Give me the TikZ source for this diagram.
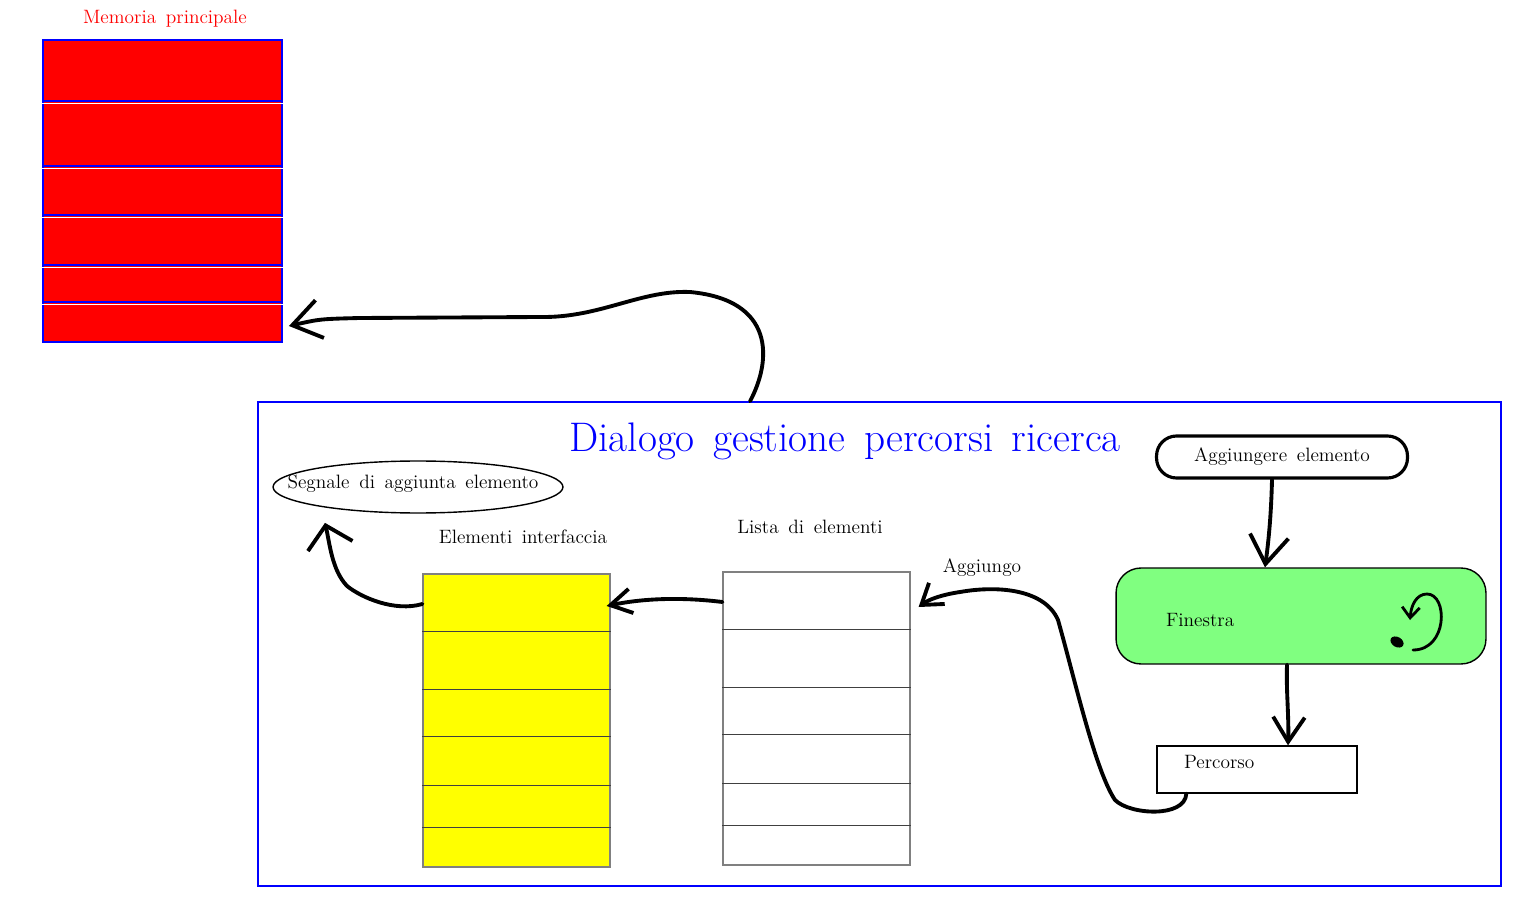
\documentclass[tikz,border=0pt]{standalone}
\usetikzlibrary{arrows.meta, positioning, shapes.geometric, calc}

\definecolor{winfill}{RGB}{128,255,128}
\definecolor{cellyellow}{RGB}{255,255,0}
\newcommand\wordsp[1]{\spaceskip #1em plus .1em\relax}

\begin{document}
\begin{tikzpicture}[
    x=0.02cm, y=-0.02cm,
    txt/.style={
        font={\fontsize{11}{13}\selectfont\wordsp{.5}},
        inner sep=1pt
    },
    membox/.style={
        draw=blue, fill=red,
        line width=1.1pt,
        minimum width=4.78cm,
        minimum height=6.04cm,
        inner sep=0pt
    },
    dlgbox/.style={
        draw=blue,
        line width=0.9pt,
        minimum width=24.86cm,
        minimum height=9.68cm,
        inner sep=0pt
    },
    cellbox/.style={
        draw=black!50,
        line width=0.7pt,
        minimum width=3.74cm,
        minimum height=5.86cm,
        inner sep=0pt
    },
    rowline/.style={draw=black!75, line width=0.5pt},
    sigshape/.style={
        draw, ellipse,
        line width=0.8pt,
        minimum width=5.8cm,
        minimum height=1.04cm,
        inner sep=0pt
    },
    addbox/.style={
        txt,
        draw,
        line width=1.8pt,
        rounded corners=0.4cm,
        minimum width=5.02cm,
        minimum height=0.84cm
    },
    winbox/.style={
        draw, fill=winfill,
        line width=0.8pt,
        rounded corners=0.5cm,
        minimum width=7.4cm,
        minimum height=1.92cm
    },
    percbox/.style={
        txt,
        draw,
        line width=0.8pt,
        minimum width=4cm,
        minimum height=0.94cm,
        inner xsep=0.54cm,
        text width=2.92cm,
        text depth=0.31cm,
        align=left
    },
    hand/.style={
        line width=2.2pt,
        line cap=round,
        line join=round
    }
]

\useasboundingbox (0,0) rectangle (1513,901);

% Main memory
\node[txt, text=red] (memlbl) at (165,19) {Memoria principale};
\node[membox] (mem) at (162.5,191) {};
\foreach \yy in {101,166,215,265,302} {
    \draw[blue, line width=0.9pt] (mem.west |- 0,\yy) -- (mem.east |- 0,\yy);
    \draw[white, line width=0.5pt] (mem.west |- 0,\yy+2) -- (mem.east |- 0,\yy+2);
}

% Dialog
\node[dlgbox] (dlg) at (879.5,644) {};
\node[font={\fontsize{23.5}{28}\selectfont\wordsp{.45}}, text=blue] (title) at (845,441)
    {Dialogo gestione percorsi ricerca};

% Signal
\node[sigshape] (sig) at (418,487) {};
\node[txt] (siglbl) at (413,484) {Segnale di aggiunta elemento};

% Interface elements and list
\node[txt] (uilbl) at (523,537) {Elementi interfaccia};
\node[cellbox, fill=cellyellow] (ui) at (516.5,720.5) {};
\foreach \yy in {631,689,736,785,827}
    \draw[rowline] (ui.west |- 0,\yy) -- (ui.east |- 0,\yy);

\node[txt] (lstlbl) at (810,527) {Lista di elementi};
\node[cellbox] (lst) at (816.5,718.5) {};
\foreach \yy in {629,687,734,783,825}
    \draw[rowline] (lst.west |- 0,\yy) -- (lst.east |- 0,\yy);

\node[txt] (agglbl) at (982,568) {Aggiungo};

% Window side
\node[addbox] (add) at (1282,457) {Aggiungere elemento};
\node[winbox] (win) at (1301,616) {};
\node[txt, anchor=west] (winlbl) at (1164,620) {Finestra};
\node[percbox] (perc) at (1257,769.5) {Percorso};

% Hand drawn arrows
\draw[hand, -{Straight Barb[length=16pt,width=22pt]}]
    ([xshift=-2.59cm]dlg.north) .. controls (772,360) and (775,300) .. (690,292)
    .. controls (640,290) and (600,318) .. (540,317) -- (360,318)
    .. controls (320,319) .. ($(mem.east |- 0,326)+(6,0)$);

\draw[hand, -{Straight Barb[length=12pt,width=26pt]}]
    (ui.west |- 0,604) .. controls (395,612) and (362,598) .. (347,586)
    .. controls (332,570) and (330,545) .. ($(sig.south west)+(10,17)$);

\draw[hand, -{Straight Barb[length=12pt,width=14pt]}]
    (lst.west |- 0,602) .. controls (690,598) and (650,597) .. ($(ui.east |- 0,606)+(-4,0)$);

\draw[hand, -{Straight Barb[length=11pt,width=15pt]}]
    ($(perc.south west)+(30,0)$) .. controls (1185,818) and (1130,815) .. (1115,800)
    .. controls (1095,770) and (1075,680) .. (1058,620)
    .. controls (1045,590) and (1000,585) .. (960,592)
    .. controls (940,595) and (928,600) .. ($(lst.east |- 0,607)+(8,0)$);

\draw[hand, -{Straight Barb[length=16pt,width=22pt]}]
    (add.south -| 1272,0) .. controls (1271,520) and (1268,545) .. (win.north -| 1265,0);

\draw[hand, -{Straight Barb[length=14pt,width=18pt]}]
    (win.south -| 1287,0) .. controls (1286,690) and (1289,715) .. (perc.north -| 1288,0);

% Loop mark
\draw[hand, line width=1.6pt, -{Straight Barb[length=6pt,width=10pt]}]
    (1413,650) .. controls (1448,650) and (1448,594) .. (1427,594)
    .. controls (1416,594) and (1411,606) .. (1410,620);
\fill[rotate around={-30:(1397,642)}] (1397,642) ellipse [x radius=7, y radius=5];

\end{tikzpicture}
\end{document}
